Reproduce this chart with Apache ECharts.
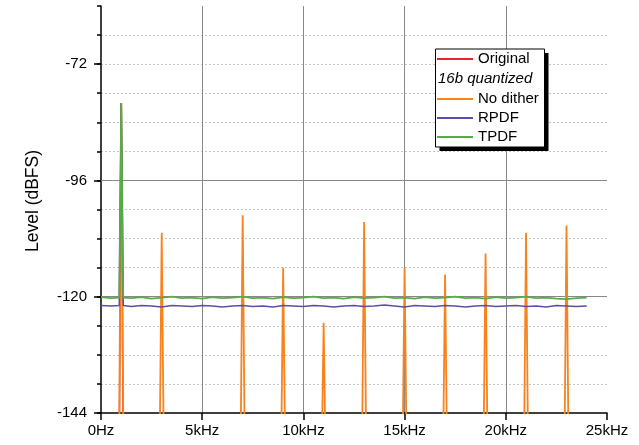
<!DOCTYPE html>
<html><head><meta charset="utf-8">
<script src="https://cdn.jsdelivr.net/npm/echarts@6/dist/echarts.min.js"></script>
<style>html,body{margin:0;padding:0;background:#fff}#c{width:639px;height:445px}</style>
</head><body><div id="c"></div>
<script>
// ---- data (frequencies in kHz, levels in dBFS) ----
const xTickValues = [0, 5, 10, 15, 20, 25];
const xTickLabels = ['0Hz', '5kHz', '10kHz', '15kHz', '20kHz', '25kHz'];
const yMajorTicks = [-144, -120, -96, -72];

const originalFreqs = [0.88, 1.0, 1.12];
const originalLevels = [-170, -80, -170];

const harmonicFreqs = [1, 3, 7, 9, 11, 13, 15, 17, 19, 21, 23];
const noDitherLevels = [-80, -106.8, -103.2, -114.0, -125.4, -104.6, -114.0, -115.4, -111.1, -106.8, -105.3];
const noDitherFloor = -160;
const spikeHalfWidth = 0.12;
const spectrumEnd = 24;

const floorFreqs = [0, 0.5, 0.9, 1.0, 1.1,
  1.5, 2, 2.5, 3, 3.5, 4, 4.5, 5, 5.5, 6,
  6.5, 7, 7.5, 8, 8.5, 9, 9.5, 10, 10.5, 11,
  11.5, 12, 12.5, 13, 13.5, 14, 14.5, 15, 15.5, 16,
  16.5, 17, 17.5, 18, 18.5, 19, 19.5, 20, 20.5, 21,
  21.5, 22, 22.5, 23, 23.5, 24];
const tpdfLevels = [-120.1, -120.3, -120.2, -80, -120.2,
  -120.3, -120.1, -120.4, -120.2, -120.0, -120.3, -120.2, -120.4, -120.1, -120.3,
  -120.2, -120.0, -120.3, -120.2, -120.4, -120.1, -120.3, -120.2, -120.0, -120.3,
  -120.2, -120.4, -120.1, -120.3, -120.2, -120.0, -120.3, -120.2, -120.4, -120.1,
  -120.3, -120.2, -120.0, -120.3, -120.2, -120.4, -120.1, -120.3, -120.2, -120.0,
  -120.3, -120.2, -120.4, -120.5, -120.3, -120.2];
const rpdfLevels = [-121.8, -121.9, -121.8, -80, -121.8,
  -122.0, -121.8, -121.9, -122.1, -121.8, -121.9, -122.0, -121.8, -121.9, -122.1,
  -121.9, -121.8, -122.0, -121.9, -122.1, -121.8, -121.9, -122.0, -121.8, -121.9,
  -122.1, -121.9, -121.8, -122.0, -121.9, -121.7, -121.9, -122.1, -121.8, -121.9,
  -122.0, -121.8, -121.9, -122.1, -121.9, -121.8, -122.0, -121.9, -121.8, -122.0,
  -121.9, -122.1, -121.8, -121.9, -122.0, -121.9];

// ---- build series data ----
const zip = (a, b) => a.map((v, i) => [v, b[i]]);
const noDitherData = [[0, noDitherFloor]];
harmonicFreqs.forEach((f, i) => {
  noDitherData.push([f - spikeHalfWidth, noDitherFloor], [f, noDitherLevels[i]], [f + spikeHalfWidth, noDitherFloor]);
});
noDitherData.push([spectrumEnd, noDitherFloor]);

const FONT = 'Liberation Sans, Arial, sans-serif';
const chart = echarts.init(document.getElementById('c'), null, {renderer: 'canvas'});
const lineSeries = (name, data, color, width) => ({
  name, type: 'line', data, symbol: 'none', showSymbol: false, clip: true,
  lineStyle: {color, width: width || 1.5}, itemStyle: {color}, emphasis: {disabled: true}
});
chart.setOption({
  animation: false,
  textStyle: {fontFamily: FONT},
  grid: {left: 101, top: 6, width: 506, height: 407, containLabel: false},
  xAxis: {
    type: 'value', min: 0, max: 25, interval: 5,
    axisLine: {show: true, lineStyle: {color: '#000', width: 1.5}},
    axisTick: {show: true, length: 7, lineStyle: {color: '#000', width: 1.5}},
    axisLabel: {
      color: '#000', fontSize: 15, margin: 10, fontFamily: FONT,
      formatter: v => { const i = xTickValues.indexOf(v); return i >= 0 ? xTickLabels[i] : ''; }
    },
    splitLine: {show: true, showMinLine: false, showMaxLine: false, lineStyle: {color: '#888', width: 1}}
  },
  yAxis: [
    {
      type: 'value', min: -144, max: -60, interval: 6, position: 'left',
      axisLine: {show: true, onZero: false, lineStyle: {color: '#000', width: 1.5}},
      axisTick: {show: true, length: 4, lineStyle: {color: '#000', width: 1.5}},
      axisLabel: {show: false},
      splitLine: {show: true, showMinLine: false, showMaxLine: false, lineStyle: {color: '#c4c4c4', width: 1, type: [2, 2]}}
    },
    {
      type: 'value', min: -144, max: -60, interval: 24, position: 'left', z: 1,
      axisLine: {show: false},
      axisTick: {show: true, length: 7, customValues: yMajorTicks, lineStyle: {color: '#000', width: 1.5}},
      axisLabel: {
        color: '#000', fontSize: 15, margin: 14, fontFamily: FONT, customValues: yMajorTicks,
        formatter: v => yMajorTicks.indexOf(v) >= 0 ? String(v) : ''
      },
      splitLine: {show: true, showMinLine: false, showMaxLine: false, lineStyle: {color: '#888', width: 1}}
    }
  ],
  legend: [
    {
      data: [{name: 'Original', icon: 'rect'}], orient: 'vertical', left: 437, top: 49.5, padding: 0,
      itemWidth: 36, itemHeight: 2, itemGap: 0, selectedMode: false, z: 20,
      textStyle: {fontSize: 15, lineHeight: 19, color: '#000', fontFamily: FONT}
    },
    {
      data: [{name: 'No dither', icon: 'rect'}, {name: 'RPDF', icon: 'rect'}, {name: 'TPDF', icon: 'rect'}],
      orient: 'vertical', left: 437, top: 89.5, padding: 0,
      itemWidth: 36, itemHeight: 2, itemGap: 0, selectedMode: false, z: 20,
      textStyle: {fontSize: 15, lineHeight: 19, color: '#000', fontFamily: FONT}
    }
  ],
  graphic: [
    {type: 'rect', z: 10, shape: {x: 439.5, y: 53, width: 109, height: 98}, style: {fill: '#000'}},
    {type: 'rect', z: 11, shape: {x: 435.5, y: 49, width: 109, height: 98}, style: {fill: '#fff', stroke: '#000', lineWidth: 1}},
    {type: 'text', z: 12, x: 438, y: 79, style: {text: '16b quantized', font: 'italic 15px Liberation Sans', fill: '#000', verticalAlign: 'middle'}},
    {type: 'text', z: 12, x: 33, y: 201, rotation: Math.PI / 2, style: {text: 'Level (dBFS)', font: '17.5px Liberation Sans', fill: '#000', align: 'center', verticalAlign: 'middle'}}
  ],
  series: [
    lineSeries('Original', zip(originalFreqs, originalLevels), '#e3262b'),
    lineSeries('No dither', noDitherData, '#f7821e', 1.8),
    lineSeries('RPDF', zip(floorFreqs, rpdfLevels), '#5e4ea3'),
    lineSeries('TPDF', zip(floorFreqs, tpdfLevels), '#58ab47', 1.8)
  ]
});
</script></body></html>
